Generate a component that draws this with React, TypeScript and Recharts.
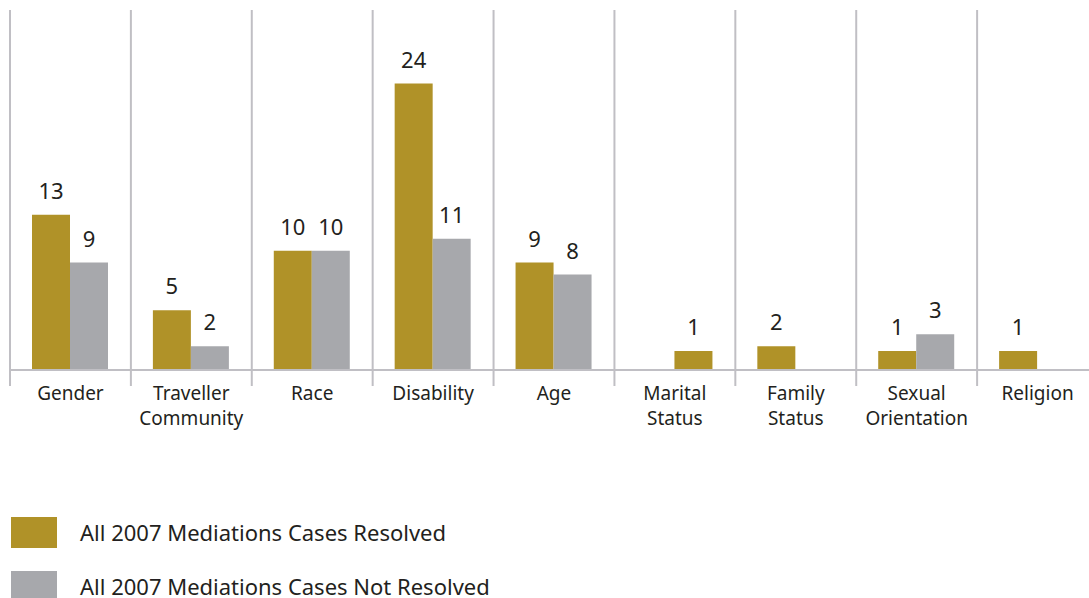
import { BarChart, Bar, XAxis, YAxis, LabelList, Legend, Cell } from "recharts";

const categories = [
  "Gender",
  "Traveller Community",
  "Race",
  "Disability",
  "Age",
  "Marital Status",
  "Family Status",
  "Sexual Orientation",
  "Religion",
];
const resolved = [13, 5, 10, 24, 9, null, 2, 1, 1];
const notResolved = [9, 2, 10, 11, 8, 1, null, 3, null];
// the lone Marital Status bar is printed in gold in the source
const goldOverride = ["Marital Status"];
const seriesNames = [
  "All 2007 Mediations Cases Resolved",
  "All 2007 Mediations Cases Not Resolved",
];

const GOLD = "#b09228";
const GREY = "#a7a8ac";
const RULE = "#c0bfc4";
const INK = "#231f20";
const FONT = "'Noto Sans', sans-serif";

const W = 1100;
const H = 598;
const LEFT = 10;
const RIGHT = 2;
const TOP = 12;
const AXIS_Y = 370;
const BAND = (W - LEFT - RIGHT) / categories.length;

const data = categories.map((name, i) => ({
  name,
  resolved: resolved[i],
  notResolved: notResolved[i],
}));

// small values are drawn a bit taller in the original
const minSize = (v: any) => (v == null ? 0 : 19);

function CategoryTick(props: any) {
  const { x, payload } = props;
  const lines = String(payload.value).split(" ");
  const left = x - BAND / 2;
  return (
    <g>
      <line x1={left} x2={left} y1={10} y2={386} stroke={RULE} strokeWidth={2} />
      <text x={x} y={AXIS_Y + 30} textAnchor="middle" fontFamily={FONT} fontSize={19} fill={INK}>
        {lines.map((l, i) => (
          <tspan key={i} x={x} dy={i === 0 ? 0 : 25}>
            {l}
          </tspan>
        ))}
      </text>
    </g>
  );
}

function LegendRows(props: any) {
  const items = [...(props.payload || [])].sort(
    (a: any, b: any) => seriesNames.indexOf(a.value) - seriesNames.indexOf(b.value)
  );
  return (
    <div style={{ fontFamily: FONT, fontSize: 22, color: INK }}>
      {items.map((entry: any, i: number) => (
        <div key={i} style={{ display: "flex", alignItems: "center", height: 31, marginBottom: 23 }}>
          <span style={{ display: "inline-block", width: 46, height: 31, background: entry.color }} />
          <span style={{ marginLeft: 23, lineHeight: "31px", whiteSpace: "nowrap" }}>{entry.value}</span>
        </div>
      ))}
    </div>
  );
}

export default function App() {
  return (
    <div style={{ position: "absolute", left: 0, top: 0, width: 1089, height: 598, overflow: "hidden", background: "#fff" }}>
      <BarChart
        width={W}
        height={H}
        data={data}
        barGap={0}
        margin={{ top: TOP, right: RIGHT, left: LEFT, bottom: H - AXIS_Y - 60 }}
        style={{ fontFamily: FONT }}
      >
        <XAxis
          dataKey="name"
          height={60}
          interval={0}
          tickLine={false}
          axisLine={{ stroke: RULE, strokeWidth: 2 }}
          tick={<CategoryTick />}
        />
        <YAxis hide domain={[0, 30]} />
        <Bar
          dataKey="resolved"
          name={seriesNames[0]}
          fill={GOLD}
          barSize={38}
          minPointSize={minSize}
          isAnimationActive={false}
        >
          <LabelList dataKey="resolved" position="top" offset={16} fill={INK} fontSize={22} fontFamily={FONT} />
        </Bar>
        <Bar
          dataKey="notResolved"
          name={seriesNames[1]}
          fill={GREY}
          barSize={38}
          minPointSize={minSize}
          isAnimationActive={false}
        >
          {data.map((d, i) => (
            <Cell key={i} fill={goldOverride.includes(d.name) ? GOLD : GREY} />
          ))}
          <LabelList dataKey="notResolved" position="top" offset={16} fill={INK} fontSize={22} fontFamily={FONT} />
        </Bar>
        <Legend
          layout="vertical"
          verticalAlign="middle"
          align="center"
          wrapperStyle={{ top: 517, left: 11, width: 700, height: "auto" }}
          content={LegendRows}
        />
      </BarChart>
    </div>
  );
}
